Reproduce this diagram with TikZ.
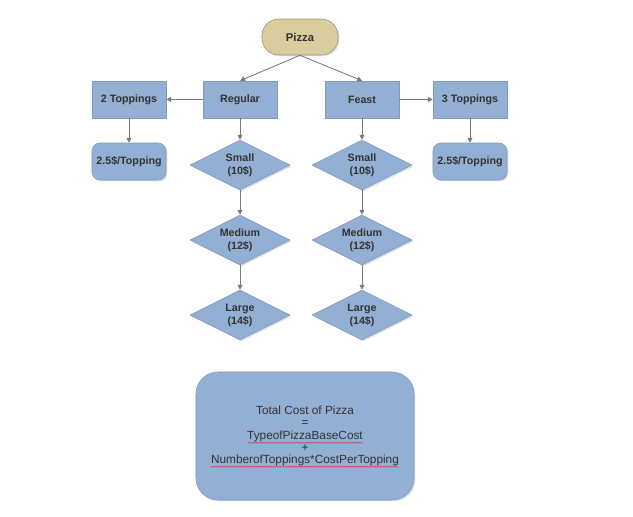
\documentclass[tikz,border=0pt]{standalone}
\usepackage{fontspec}
\setmainfont{Liberation Sans}
\usetikzlibrary{shapes.geometric,shadows,arrows.meta,decorations.pathmorphing}

\definecolor{boxblue}{HTML}{94AFD4}
\definecolor{boxline}{HTML}{7E99BF}
\definecolor{pizzatan}{HTML}{D9CC9F}
\definecolor{pizzaline}{HTML}{9C9270}
\definecolor{txtgray}{HTML}{333333}
\definecolor{arrowgray}{HTML}{7A7A7A}
\definecolor{spellred}{HTML}{E03030}

\tikzset{
  base/.style={draw=boxline,fill=boxblue,text=txtgray,inner sep=1pt,
    font=\fontsize{7.6}{9.2}\selectfont\bfseries,align=center,
    drop shadow={opacity=0.25,shadow xshift=1pt,shadow yshift=-1pt}},
  box/.style={base,minimum width=1.85cm,minimum height=0.925cm},
  roundbox/.style={box,rounded corners=0.2cm},
  choice/.style={base,diamond,aspect=2,minimum width=2.5cm,minimum height=1.25cm},
  link/.style={draw=arrowgray,line width=0.6pt,-{Triangle[length=3.5pt,width=3.5pt]}}
}

\begin{document}
\begin{tikzpicture}[x=0.025cm,y=-0.025cm]
  \useasboundingbox(0,0)rectangle(633,516);
  \node[base,fill=pizzatan,draw=pizzaline,minimum width=1.9cm,minimum height=0.9cm,
        rounded corners=0.42cm,font=\fontsize{8}{9}\selectfont\bfseries] (pizza) at (300,37) {Pizza};

  \node[box] (regular) at (240,99.5) {Regular};
  \node[box] (feast) at (362,99.5) {Feast};
  \node[box] (twotop) at (129,99.5) {2 Toppings};
  \node[box] (threetop) at (470,99.5) {3 Toppings};
  \node[roundbox] (twocost) at (129,161.5) {2.5\$/Topping};
  \node[roundbox] (threecost) at (470,161.5) {2.5\$/Topping};

  % sizes under each base
  \foreach \col/\x in {r/240,f/362}
  {
    \node[choice] (small\col) at (\x,165) {Small\\(10\$)};
    \node[choice] (medium\col) at (\x,240) {Medium\\(12\$)};
    \node[choice] (large\col) at (\x,315) {Large\\(14\$)};
    \draw[link](small\col)--(medium\col);
    \draw[link](medium\col)--(large\col);
  }

  \draw[link](pizza.south)--(regular.north);
  \draw[link](pizza.south)--(feast.north);
  \draw[link](regular)--(twotop);
  \draw[link](feast)--(threetop);
  \draw[link](regular)--(smallr);
  \draw[link](feast)--(smallf);
  \draw[link](twotop)--(twocost);
  \draw[link](threetop)--(threecost);

  \node[base,minimum width=5.45cm,minimum height=3.2cm,rounded corners=0.55cm,
        font=\fontsize{8.4}{8.8}\selectfont] (cost) at (305,436)
    {Total Cost of Pizza\\=\\TypeofPizzaBaseCost\\+\\NumberofToppings*CostPerTopping};
  \draw[spellred,line width=0.35pt,decorate,
        decoration={snake,amplitude=0.35pt,segment length=2pt}]
    ([xshift=-1.425cm,yshift=-0.17cm]cost.center)--++(114,0)
    ([xshift=-2.35cm,yshift=-0.78cm]cost.center)--++(188,0);
\end{tikzpicture}
\end{document}
